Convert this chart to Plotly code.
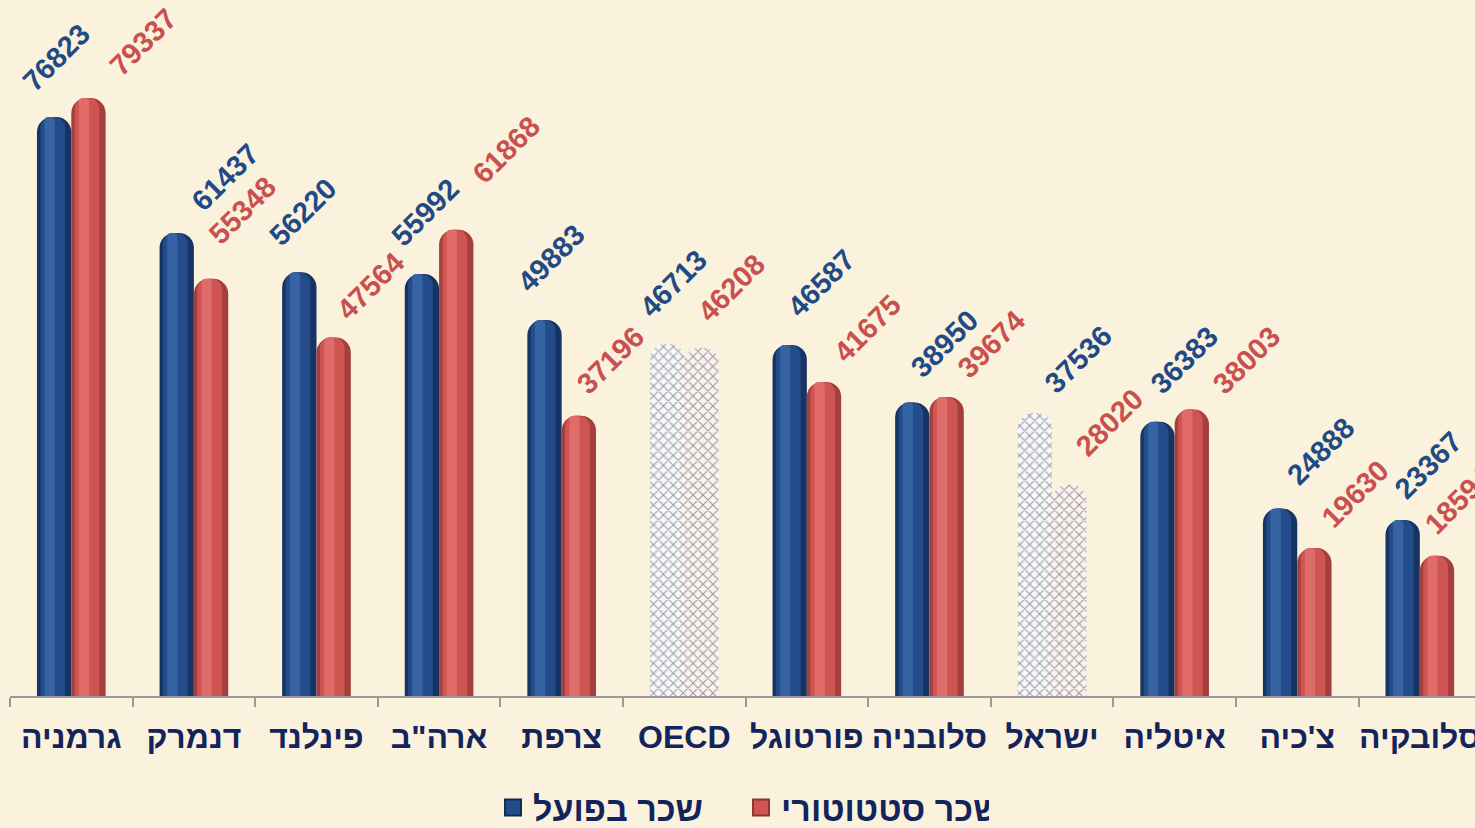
import plotly.graph_objects as go

# ---- data ----
categories = ["גרמניה", "דנמרק", "פינלנד", 'ארה"ב', "צרפת", "OECD",
              "פורטוגל", "סלובניה", "ישראל", "איטליה", "צ'כיה", "סלובקיה"]
actual_wage = [76823, 61437, 56220, 55992, 49883, 46713,
               46587, 38950, 37536, 36383, 24888, 23367]
statutory_wage = [79337, 55348, 47564, 61868, 37196, 46208,
                  41675, 39674, 28020, 38003, 19630, 18594]
series_names = ["שכר בפועל", "שכר סטטוטורי"]
highlighted = ["OECD", "ישראל"]

# label offsets (pixels) relative to top-centre of each bar: (dx, dy)
blue_off = [(-35, 22), (11, 18), (-34, 22), (-34, 24), (-31, 24), (-31, 23),
            (-6, 24), (-6, 21), (6, 16), (-11, 24), (3, 20), (-12, 17)]
red_off = [(17, 18), (-6, 31), (-1, 14), (12, 42), (-6, 18), (-8, 22),
           (6, 16), (7, 15), (3, 25), (17, 12), (3, 16), (-16, 18)]

BG = "#FAF2DC"
FONT = "Arial, Liberation Sans, DejaVu Sans, sans-serif"
NAVY = "#13235B"
BLUE_TXT = "#1F4A86"
RED_TXT = "#C9504F"

W = 0.28  # bar width in category units
idx = list(range(len(categories)))
is_hl = [c in highlighted for c in categories]

fig = go.Figure()


def add_cylinder(values, offset, dark, mid, light, pat_fg, pat_bg):
    # outer (dark edge) layer - carries the pattern for highlighted bars
    fig.add_trace(go.Bar(
        x=categories, y=values, width=W, offset=offset,
        marker=dict(
            color=[pat_bg if h else dark for h in is_hl],
            cornerradius="45%",
            line=dict(width=0),
            pattern=dict(shape=["x" if h else "" for h in is_hl],
                         fgcolor=pat_fg, size=7, solidity=0.3,
                         fillmode="overlay"),
        ),
        hoverinfo="skip", showlegend=False,
    ))
    # inner shading layers
    for frac, shift, col in [(0.72, 0.10, mid), (0.30, 0.22, light)]:
        fig.add_trace(go.Bar(
            x=categories, y=values, width=W * frac,
            offset=offset + W * shift,
            marker=dict(color=["rgba(0,0,0,0)" if h else col for h in is_hl],
                        cornerradius="45%", line=dict(width=0)),
            hoverinfo="skip", showlegend=False,
        ))


add_cylinder(actual_wage, -W, "#163463", "#244C8A", "#3563A3",
             "#7F90AE", "#F6F8FB")
add_cylinder(statutory_wage, 0.0, "#A53F3D", "#CF5552", "#E06C69",
             "#DC9CA0", "#FBF2F2")

# legend entries
for name, col, edge in [(series_names[0], "#244C8A", "#102A55"),
                        (series_names[1], "#CF5552", "#8E3533")]:
    fig.add_trace(go.Scatter(
        x=[None], y=[None], mode="markers", name=name,
        marker=dict(symbol="square", size=16, color=col,
                    line=dict(color=edge, width=2)),
        hoverinfo="skip", showlegend=True,
    ))

# value labels
ann = []
for i in idx:
    for vals, off, col, xc in [(actual_wage, blue_off, BLUE_TXT, i - W / 2),
                               (statutory_wage, red_off, RED_TXT, i + W / 2)]:
        dx, dy = off[i]
        ann.append(dict(
            x=xc, y=vals[i], xref="x", yref="y", text=str(vals[i]),
            showarrow=False, textangle=-45, xanchor="left", yanchor="bottom",
            xshift=dx - 5, yshift=dy - 5,
            font=dict(family=FONT, size=29, color=col, weight="bold"),
        ))

fig.update_layout(
    width=1475, height=828,
    paper_bgcolor=BG, plot_bgcolor=BG,
    margin=dict(l=10, r=0, t=10, b=132, autoexpand=False),
    barmode="overlay",
    annotations=ann,
    showlegend=True,
    legend=dict(orientation="h", x=0.499, xanchor="center", y=-0.163,
                yanchor="middle", bgcolor="rgba(0,0,0,0)",
                font=dict(family=FONT, size=34, color=NAVY, weight="bold"),
                traceorder="normal", itemwidth=30,
                entrywidth=203, entrywidthmode="pixels"),
    xaxis=dict(
        type="category", categoryorder="array", categoryarray=categories,
        range=[-0.5, 11.45], autorange=False, showgrid=False, zeroline=False,
        showline=True, linecolor="#9A9A9A", linewidth=2,
        ticks="outside", tickson="boundaries", ticklen=9, tickwidth=2,
        tickcolor="#9A9A9A", ticklabelstandoff=12, tickangle=0,
        automargin=False, ticklabeloverflow="allow",
        tickfont=dict(family=FONT, size=32, color=NAVY, weight="bold"),
    ),
    yaxis=dict(range=[0, 91018], visible=False, showgrid=False,
               zeroline=False, automargin=False),
)

fig.write_html("out.html",
               config={"displayModeBar": False},
               post_script="document.body.style.margin='0';"
                           "document.body.style.overflow='hidden';"
                           "document.body.style.background='" + BG + "';")
